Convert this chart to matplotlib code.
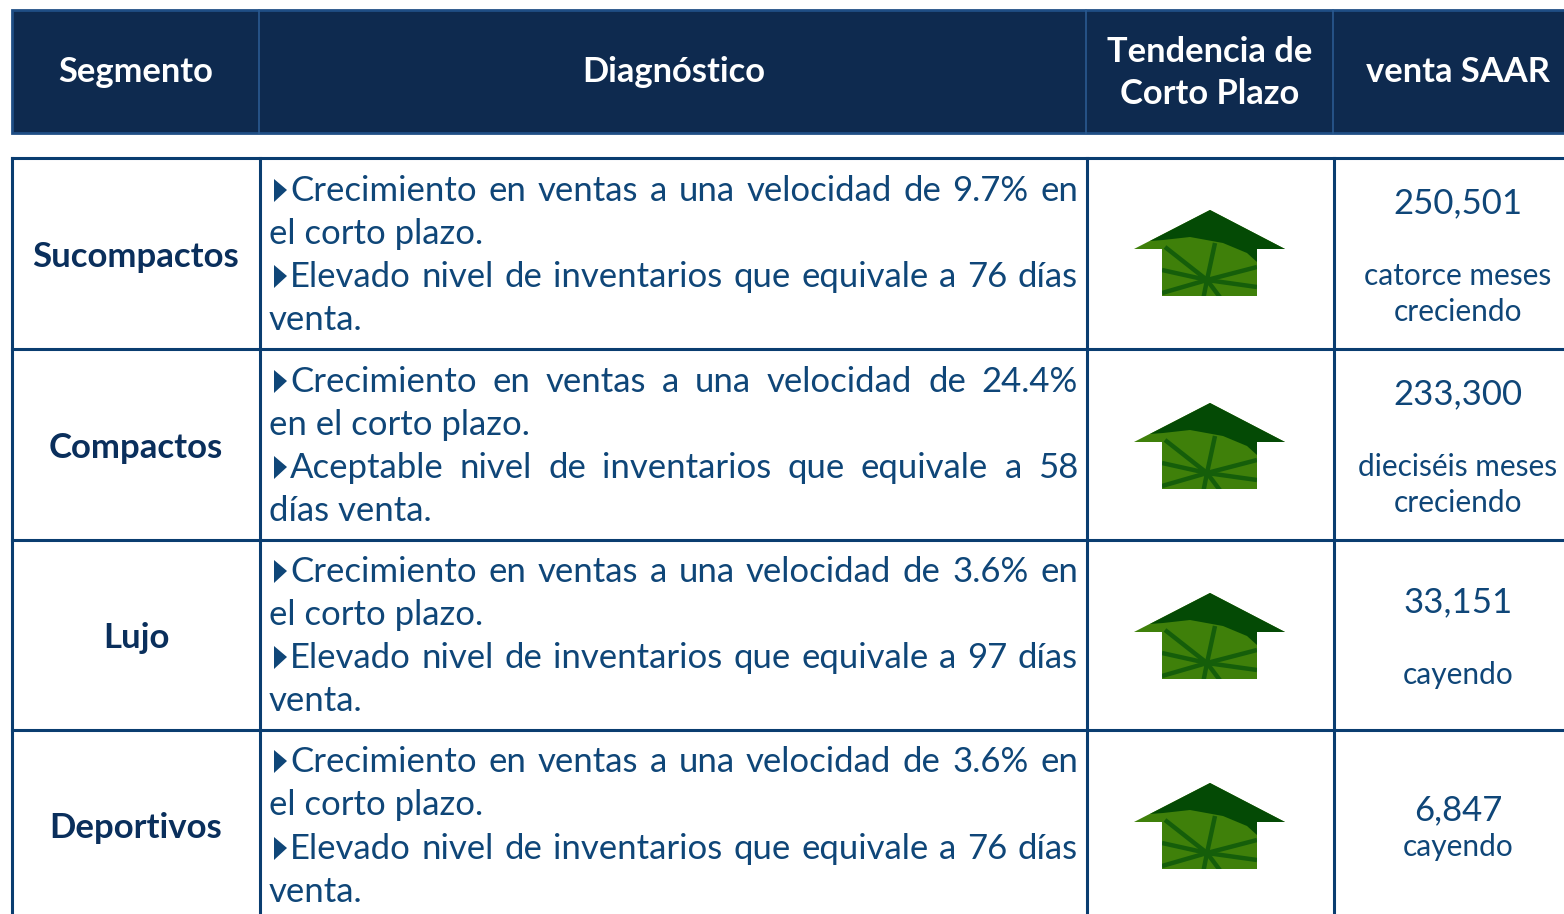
import matplotlib
matplotlib.use("Agg")
import matplotlib.pyplot as plt
from matplotlib.patches import Polygon, Rectangle

plt.rcParams['font.family'] = ['Lato', 'DejaVu Sans']

NAVY = "#0e2a4f"
EDGE = "#0a3d70"
TEXT = "#0f4678"
SEG = "#0a2f5c"

headers = ["Segmento", "Diagnóstico", "Tendencia de\nCorto Plazo", "venta SAAR"]
segmentos = ["Sucompactos", "Compactos", "Lujo", "Deportivos"]
diagnostico = [
    ["Crecimiento en ventas a una velocidad de 9.7% en", "el corto plazo.",
     "Elevado nivel de inventarios que equivale a 76 días", "venta."],
    ["Crecimiento en ventas a una velocidad de 24.4%", "en el corto plazo.",
     "Aceptable nivel de inventarios que equivale a 58", "días venta."],
    ["Crecimiento en ventas a una velocidad de 3.6% en", "el corto plazo.",
     "Elevado nivel de inventarios que equivale a 97 días", "venta."],
    ["Crecimiento en ventas a una velocidad de 3.6% en", "el corto plazo.",
     "Elevado nivel de inventarios que equivale a 76 días", "venta."],
]
ventas = ["250,501", "233,300", "33,151", "6,847"]
notas = ["catorce meses\ncreciendo", "dieciséis meses\ncreciendo", "cayendo", "cayendo"]

col_x = [12, 260, 1087, 1334, 1570]
row_y = [158, 349, 540, 730]
seg_y = [257, 448, 638, 828]
line_y = [[191, 234, 277, 320], [382, 425, 468, 511], [572, 615, 658, 701], [762, 805, 849, 892]]
arrow_top = [210, 403, 593, 783]
venta_y = [203, 394, 602, 810]
nota_y = [294, 485, 675, 847]

fig = plt.figure(figsize=(15.64, 9.14), dpi=100)
ax = fig.add_axes([0, 0, 1, 1])
ax.set_xlim(0, 1564)
ax.set_ylim(914, 0)
ax.axis("off")

# header band
ax.add_patch(Rectangle((12, 10), 1560, 123, fc=NAVY, ec="#1f4e85", lw=2))
for x in col_x[1:4]:
    ax.plot([x - 1, x - 1], [10, 133], color="#2a5a90", lw=1.2)
head_x = [136, 674, 1210, 1458]
head_y = [72, 72, 73, 72]
for x, y, h in zip(head_x, head_y, headers):
    ax.text(x, y, h, color="white", fontsize=24.8, fontweight="bold", ha="center", va="center",
            linespacing=1.42)

# grid of the body
for y in row_y:
    ax.plot([12, 1564], [y, y], color=EDGE, lw=2.2)
for x in col_x[:4]:
    ax.plot([x, x], [158, 914], color=EDGE, lw=2.2)


def justified(line, x0, x1, y):
    words = line.split(" ")
    r = fig.canvas.get_renderer()
    items = [ax.text(0, y, w, color=TEXT, fontsize=FS, va="center") for w in words]
    widths = [t.get_window_extent(r).width for t in items]
    gap = (x1 - x0 - sum(widths)) / (len(words) - 1)
    x = x0
    for t, w in zip(items, widths):
        t.set_x(x)
        x += w + gap


def arrow(top):
    outline = Polygon([(1210, top), (1285, top + 39), (1257, top + 39), (1257, top + 86),
                       (1162, top + 86), (1162, top + 39), (1134, top + 39)],
                      fc="#3f800a", ec="none", zorder=3)
    ax.add_patch(outline)
    hub = (1207, top + 70)
    ends = [(1165, top + 37), (1215, top + 33), (1257, top + 57), (1162, top + 60),
            (1162, top + 83), (1257, top + 77), (1203, top + 90), (1222, top + 90)]
    for e in ends:
        v, = ax.plot([hub[0], e[0]], [hub[1], e[1]], color="#155e0a", lw=3.2, zorder=4,
                     solid_capstyle="butt")
        v.set_clip_path(outline)
    cap = Polygon([(1210, top), (1285, top + 39), (1257, top + 39), (1257, top + 52), (1247, top + 43),
                   (1223, top + 33), (1190, top + 27), (1163, top + 30), (1150, top + 31)],
                  fc="#044a05", ec="none", zorder=5)
    ax.add_patch(cap)


FS = 25
for i in range(4):
    ax.text(136, seg_y[i], segmentos[i], color=SEG, fontsize=25, fontweight="bold", ha="center", va="center")
    for j, line in enumerate(diagnostico[i]):
        y = line_y[i][j]
        if j % 2 == 0:
            ax.add_patch(Polygon([(274, y - 12), (287, y - 1), (274, y + 11)], fc=TEXT, ec="none"))
            justified(line, 290, 1078, y)
        else:
            ax.text(269, y, line, color=TEXT, fontsize=FS, va="center")
    arrow(arrow_top[i])
    ax.text(1458, venta_y[i], ventas[i], color=TEXT, fontsize=FS, ha="center", va="center")
    ax.text(1458, nota_y[i], notas[i], color=TEXT, fontsize=21.5, ha="center", va="center", linespacing=1.32)

fig.savefig("out.png", dpi=100)
